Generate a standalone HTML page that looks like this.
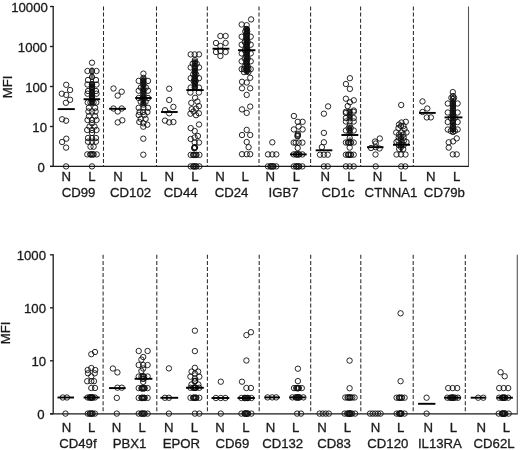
<!DOCTYPE html>
<html><head><meta charset="utf-8"><style>
html,body{margin:0;padding:0;background:#fff;}
svg{display:block;filter:blur(0.35px);}
circle{fill:none;stroke:#111;stroke-width:0.9;}
text{stroke:#1a1a1a;stroke-width:0.3px;}
</style></head><body>
<svg width="520" height="450" viewBox="0 0 520 450">
<rect width="520" height="450" fill="#fff"/>
<line x1="53.2" y1="5.9" x2="53.2" y2="166.4" stroke="#1a1a1a" stroke-width="1.3"/>
<line x1="50.0" y1="166.4" x2="469.0" y2="166.4" stroke="#1a1a1a" stroke-width="1.3"/>
<line x1="50.0" y1="6.5" x2="53.2" y2="6.5" stroke="#1a1a1a" stroke-width="1.3"/>
<text x="47.8" y="11.7" text-anchor="end" font-size="13.2" font-family="Liberation Sans, sans-serif" fill="#1a1a1a">10000</text>
<line x1="50.0" y1="46.5" x2="53.2" y2="46.5" stroke="#1a1a1a" stroke-width="1.3"/>
<text x="47.2" y="51.7" text-anchor="end" font-size="13.2" font-family="Liberation Sans, sans-serif" fill="#1a1a1a">1000</text>
<line x1="50.0" y1="86.5" x2="53.2" y2="86.5" stroke="#1a1a1a" stroke-width="1.3"/>
<text x="47.2" y="91.7" text-anchor="end" font-size="13.2" font-family="Liberation Sans, sans-serif" fill="#1a1a1a">100</text>
<line x1="50.0" y1="126.5" x2="53.2" y2="126.5" stroke="#1a1a1a" stroke-width="1.3"/>
<text x="47.0" y="131.7" text-anchor="end" font-size="13.2" font-family="Liberation Sans, sans-serif" fill="#1a1a1a">10</text>
<line x1="50.0" y1="166.4" x2="53.2" y2="166.4" stroke="#1a1a1a" stroke-width="1.3"/>
<text x="44.8" y="171.6" text-anchor="end" font-size="13.2" font-family="Liberation Sans, sans-serif" fill="#1a1a1a">0</text>
<line x1="103.5" y1="6.5" x2="103.5" y2="166.4" stroke="#2a2a2a" stroke-width="1.05" stroke-dasharray="4,2.1"/>
<line x1="156.5" y1="6.5" x2="156.5" y2="166.4" stroke="#2a2a2a" stroke-width="1.05" stroke-dasharray="4,2.1"/>
<line x1="207.3" y1="6.5" x2="207.3" y2="166.4" stroke="#2a2a2a" stroke-width="1.05" stroke-dasharray="4,2.1"/>
<line x1="259" y1="6.5" x2="259" y2="166.4" stroke="#2a2a2a" stroke-width="1.05" stroke-dasharray="4,2.1"/>
<line x1="310.6" y1="6.5" x2="310.6" y2="166.4" stroke="#2a2a2a" stroke-width="1.05" stroke-dasharray="4,2.1"/>
<line x1="360.6" y1="6.5" x2="360.6" y2="166.4" stroke="#2a2a2a" stroke-width="1.05" stroke-dasharray="4,2.1"/>
<line x1="413.4" y1="6.5" x2="413.4" y2="166.4" stroke="#2a2a2a" stroke-width="1.05" stroke-dasharray="4,2.1"/>
<line x1="468.5" y1="6.5" x2="468.5" y2="166.4" stroke="#555" stroke-width="1.1"/>
<text x="66.3" y="181.0" text-anchor="middle" font-size="13.2" font-family="Liberation Sans, sans-serif" fill="#1a1a1a">N</text>
<text x="91.9" y="181.0" text-anchor="middle" font-size="13.2" font-family="Liberation Sans, sans-serif" fill="#1a1a1a">L</text>
<text x="78.6" y="196.6" text-anchor="middle" font-size="13.2" font-family="Liberation Sans, sans-serif" fill="#1a1a1a">CD99</text>
<text x="117.9" y="181.0" text-anchor="middle" font-size="13.2" font-family="Liberation Sans, sans-serif" fill="#1a1a1a">N</text>
<text x="143.6" y="181.0" text-anchor="middle" font-size="13.2" font-family="Liberation Sans, sans-serif" fill="#1a1a1a">L</text>
<text x="130.6" y="196.6" text-anchor="middle" font-size="13.2" font-family="Liberation Sans, sans-serif" fill="#1a1a1a">CD102</text>
<text x="169.3" y="181.0" text-anchor="middle" font-size="13.2" font-family="Liberation Sans, sans-serif" fill="#1a1a1a">N</text>
<text x="194.9" y="181.0" text-anchor="middle" font-size="13.2" font-family="Liberation Sans, sans-serif" fill="#1a1a1a">L</text>
<text x="180.7" y="196.6" text-anchor="middle" font-size="13.2" font-family="Liberation Sans, sans-serif" fill="#1a1a1a">CD44</text>
<text x="220.0" y="181.0" text-anchor="middle" font-size="13.2" font-family="Liberation Sans, sans-serif" fill="#1a1a1a">N</text>
<text x="245.2" y="181.0" text-anchor="middle" font-size="13.2" font-family="Liberation Sans, sans-serif" fill="#1a1a1a">L</text>
<text x="231.5" y="196.6" text-anchor="middle" font-size="13.2" font-family="Liberation Sans, sans-serif" fill="#1a1a1a">CD24</text>
<text x="270.3" y="181.0" text-anchor="middle" font-size="13.2" font-family="Liberation Sans, sans-serif" fill="#1a1a1a">N</text>
<text x="296.5" y="181.0" text-anchor="middle" font-size="13.2" font-family="Liberation Sans, sans-serif" fill="#1a1a1a">L</text>
<text x="283.6" y="196.6" text-anchor="middle" font-size="13.2" font-family="Liberation Sans, sans-serif" fill="#1a1a1a">IGB7</text>
<text x="325.2" y="181.0" text-anchor="middle" font-size="13.2" font-family="Liberation Sans, sans-serif" fill="#1a1a1a">N</text>
<text x="350.9" y="181.0" text-anchor="middle" font-size="13.2" font-family="Liberation Sans, sans-serif" fill="#1a1a1a">L</text>
<text x="338.0" y="196.6" text-anchor="middle" font-size="13.2" font-family="Liberation Sans, sans-serif" fill="#1a1a1a">CD1c</text>
<text x="377.5" y="181.0" text-anchor="middle" font-size="13.2" font-family="Liberation Sans, sans-serif" fill="#1a1a1a">N</text>
<text x="403.2" y="181.0" text-anchor="middle" font-size="13.2" font-family="Liberation Sans, sans-serif" fill="#1a1a1a">L</text>
<text x="391.0" y="196.6" text-anchor="middle" font-size="13.2" font-family="Liberation Sans, sans-serif" fill="#1a1a1a">CTNNA1</text>
<text x="430.8" y="181.0" text-anchor="middle" font-size="13.2" font-family="Liberation Sans, sans-serif" fill="#1a1a1a">N</text>
<text x="456.7" y="181.0" text-anchor="middle" font-size="13.2" font-family="Liberation Sans, sans-serif" fill="#1a1a1a">L</text>
<text x="444.4" y="196.6" text-anchor="middle" font-size="13.2" font-family="Liberation Sans, sans-serif" fill="#1a1a1a">CD79b</text>
<text x="12.2" y="86.9" transform="rotate(-90 12.2 86.9)" text-anchor="middle" font-size="13.2" font-family="Liberation Sans, sans-serif" fill="#1a1a1a">MFI</text>
<circle cx="66.2" cy="84.8" r="2.7"/>
<circle cx="70.1" cy="90.0" r="2.7"/>
<circle cx="61.8" cy="93.7" r="2.7"/>
<circle cx="66.2" cy="94.9" r="2.7"/>
<circle cx="70.1" cy="99.8" r="2.7"/>
<circle cx="65.9" cy="102.8" r="2.7"/>
<circle cx="62.1" cy="119.3" r="2.7"/>
<circle cx="66.1" cy="120.7" r="2.7"/>
<circle cx="66.3" cy="138.7" r="2.7"/>
<circle cx="62.1" cy="142.0" r="2.7"/>
<circle cx="66.1" cy="147.6" r="2.7"/>
<circle cx="66.1" cy="166.4" r="2.7"/>
<circle cx="92.0" cy="62.7" r="2.7"/>
<circle cx="87.5" cy="71.0" r="2.7"/>
<circle cx="92.0" cy="71.0" r="2.7"/>
<circle cx="96.5" cy="71.0" r="2.7"/>
<circle cx="92.0" cy="77.0" r="2.7"/>
<circle cx="88.0" cy="80.0" r="2.7"/>
<circle cx="96.0" cy="80.0" r="2.7"/>
<circle cx="87.5" cy="84.5" r="2.7"/>
<circle cx="92.0" cy="84.5" r="2.7"/>
<circle cx="96.5" cy="84.5" r="2.7"/>
<circle cx="92.0" cy="88.0" r="2.7"/>
<circle cx="88.0" cy="91.0" r="2.7"/>
<circle cx="96.0" cy="91.0" r="2.7"/>
<circle cx="87.5" cy="93.7" r="2.7"/>
<circle cx="92.0" cy="93.7" r="2.7"/>
<circle cx="96.5" cy="93.7" r="2.7"/>
<circle cx="92.0" cy="97.0" r="2.7"/>
<circle cx="87.7" cy="102.5" r="2.7"/>
<circle cx="90.5" cy="102.5" r="2.7"/>
<circle cx="93.5" cy="102.5" r="2.7"/>
<circle cx="96.3" cy="102.5" r="2.7"/>
<circle cx="88.9" cy="107.8" r="2.7"/>
<circle cx="95.1" cy="107.8" r="2.7"/>
<circle cx="88.4" cy="111.5" r="2.7"/>
<circle cx="92.0" cy="111.5" r="2.7"/>
<circle cx="95.6" cy="111.5" r="2.7"/>
<circle cx="88.9" cy="116.3" r="2.7"/>
<circle cx="95.1" cy="116.3" r="2.7"/>
<circle cx="87.5" cy="120.0" r="2.7"/>
<circle cx="92.0" cy="120.0" r="2.7"/>
<circle cx="96.5" cy="120.0" r="2.7"/>
<circle cx="92.0" cy="123.3" r="2.7"/>
<circle cx="89.5" cy="126.6" r="2.7"/>
<circle cx="94.5" cy="126.6" r="2.7"/>
<circle cx="87.2" cy="130.0" r="2.7"/>
<circle cx="92.0" cy="130.0" r="2.7"/>
<circle cx="96.5" cy="130.0" r="2.7"/>
<circle cx="92.0" cy="133.0" r="2.7"/>
<circle cx="88.0" cy="138.0" r="2.7"/>
<circle cx="92.0" cy="138.0" r="2.7"/>
<circle cx="95.9" cy="138.0" r="2.7"/>
<circle cx="88.0" cy="141.7" r="2.7"/>
<circle cx="92.0" cy="141.7" r="2.7"/>
<circle cx="95.9" cy="141.7" r="2.7"/>
<circle cx="90.5" cy="146.7" r="2.7"/>
<circle cx="93.6" cy="146.7" r="2.7"/>
<circle cx="87.3" cy="154.4" r="2.7"/>
<circle cx="90.5" cy="154.4" r="2.7"/>
<circle cx="93.6" cy="154.4" r="2.7"/>
<circle cx="96.7" cy="154.4" r="2.7"/>
<circle cx="92.0" cy="166.4" r="2.7"/>
<circle cx="92.0" cy="84.0" r="2.7"/>
<circle cx="92.0" cy="87.0" r="2.7"/>
<circle cx="92.0" cy="90.0" r="2.7"/>
<circle cx="92.0" cy="93.0" r="2.7"/>
<circle cx="92.0" cy="96.0" r="2.7"/>
<circle cx="92.0" cy="99.0" r="2.7"/>
<circle cx="92.0" cy="102.0" r="2.7"/>
<circle cx="90.4" cy="154.4" r="2.7"/>
<circle cx="91.7" cy="154.4" r="2.7"/>
<circle cx="93.0" cy="154.4" r="2.7"/>
<rect x="90.20" y="67.20" width="3.6" height="12.60" rx="1.8" fill="#0d0d0d" fill-opacity="0.6"/>
<rect x="89.90" y="81.40" width="4.2" height="24.70" rx="2.1" fill="#0d0d0d" fill-opacity="0.85"/>
<line x1="57.7" y1="109.1" x2="74.8" y2="109.1" stroke="#000" stroke-width="1.9"/>
<line x1="83.6" y1="99.2" x2="100.1" y2="99.2" stroke="#000" stroke-width="1.9"/>
<circle cx="113.5" cy="88.5" r="2.7"/>
<circle cx="121.7" cy="91.7" r="2.7"/>
<circle cx="117.7" cy="95.6" r="2.7"/>
<circle cx="113.5" cy="108.5" r="2.7"/>
<circle cx="117.7" cy="111.5" r="2.7"/>
<circle cx="121.7" cy="108.5" r="2.7"/>
<circle cx="117.7" cy="122.4" r="2.7"/>
<circle cx="122.3" cy="120.3" r="2.7"/>
<circle cx="143.4" cy="73.6" r="2.7"/>
<circle cx="143.4" cy="77.9" r="2.7"/>
<circle cx="138.7" cy="80.9" r="2.7"/>
<circle cx="143.4" cy="80.9" r="2.7"/>
<circle cx="148.0" cy="80.9" r="2.7"/>
<circle cx="143.4" cy="84.6" r="2.7"/>
<circle cx="140.9" cy="87.5" r="2.7"/>
<circle cx="145.9" cy="87.5" r="2.7"/>
<circle cx="138.7" cy="90.7" r="2.7"/>
<circle cx="143.4" cy="90.7" r="2.7"/>
<circle cx="148.0" cy="90.7" r="2.7"/>
<circle cx="143.4" cy="94.4" r="2.7"/>
<circle cx="138.7" cy="98.0" r="2.7"/>
<circle cx="143.4" cy="98.0" r="2.7"/>
<circle cx="148.0" cy="98.0" r="2.7"/>
<circle cx="140.7" cy="101.7" r="2.7"/>
<circle cx="145.6" cy="101.7" r="2.7"/>
<circle cx="143.4" cy="104.5" r="2.7"/>
<circle cx="138.7" cy="107.8" r="2.7"/>
<circle cx="143.4" cy="107.8" r="2.7"/>
<circle cx="148.0" cy="107.8" r="2.7"/>
<circle cx="139.6" cy="112.0" r="2.7"/>
<circle cx="143.1" cy="112.0" r="2.7"/>
<circle cx="147.4" cy="112.0" r="2.7"/>
<circle cx="138.7" cy="115.0" r="2.7"/>
<circle cx="144.4" cy="115.0" r="2.7"/>
<circle cx="140.7" cy="118.9" r="2.7"/>
<circle cx="145.6" cy="118.9" r="2.7"/>
<circle cx="139.3" cy="122.0" r="2.7"/>
<circle cx="143.3" cy="123.3" r="2.7"/>
<circle cx="147.3" cy="124.7" r="2.7"/>
<circle cx="143.3" cy="126.7" r="2.7"/>
<circle cx="143.3" cy="138.7" r="2.7"/>
<circle cx="143.3" cy="154.7" r="2.7"/>
<circle cx="143.4" cy="79.0" r="2.7"/>
<circle cx="143.4" cy="82.0" r="2.7"/>
<circle cx="143.4" cy="85.0" r="2.7"/>
<circle cx="143.4" cy="88.0" r="2.7"/>
<circle cx="143.4" cy="91.0" r="2.7"/>
<circle cx="143.4" cy="94.0" r="2.7"/>
<circle cx="143.4" cy="97.0" r="2.7"/>
<circle cx="143.4" cy="100.0" r="2.7"/>
<circle cx="143.4" cy="103.0" r="2.7"/>
<rect x="141.30" y="76.90" width="4.2" height="29.20" rx="2.1" fill="#0d0d0d" fill-opacity="0.85"/>
<line x1="109.1" y1="108.8" x2="126" y2="108.8" stroke="#000" stroke-width="1.9"/>
<line x1="135.2" y1="98" x2="151.7" y2="98" stroke="#000" stroke-width="1.9"/>
<circle cx="169.2" cy="88.7" r="2.7"/>
<circle cx="169.2" cy="100.0" r="2.7"/>
<circle cx="173.4" cy="106.9" r="2.7"/>
<circle cx="165.0" cy="110.2" r="2.7"/>
<circle cx="169.2" cy="113.3" r="2.7"/>
<circle cx="165.0" cy="120.6" r="2.7"/>
<circle cx="169.2" cy="122.4" r="2.7"/>
<circle cx="173.4" cy="122.0" r="2.7"/>
<circle cx="190.7" cy="54.4" r="2.7"/>
<circle cx="194.7" cy="54.4" r="2.7"/>
<circle cx="199.0" cy="54.4" r="2.7"/>
<circle cx="194.7" cy="61.6" r="2.7"/>
<circle cx="192.7" cy="63.8" r="2.7"/>
<circle cx="196.7" cy="63.8" r="2.7"/>
<circle cx="190.7" cy="67.4" r="2.7"/>
<circle cx="194.7" cy="67.4" r="2.7"/>
<circle cx="199.0" cy="67.4" r="2.7"/>
<circle cx="194.7" cy="71.7" r="2.7"/>
<circle cx="193.2" cy="74.5" r="2.7"/>
<circle cx="196.2" cy="74.5" r="2.7"/>
<circle cx="190.7" cy="78.2" r="2.7"/>
<circle cx="194.7" cy="78.2" r="2.7"/>
<circle cx="199.0" cy="78.2" r="2.7"/>
<circle cx="193.7" cy="81.0" r="2.7"/>
<circle cx="195.7" cy="81.0" r="2.7"/>
<circle cx="194.7" cy="83.3" r="2.7"/>
<circle cx="190.7" cy="87.6" r="2.7"/>
<circle cx="194.7" cy="87.6" r="2.7"/>
<circle cx="199.0" cy="87.6" r="2.7"/>
<circle cx="190.4" cy="92.5" r="2.7"/>
<circle cx="198.9" cy="92.5" r="2.7"/>
<circle cx="195.1" cy="97.8" r="2.7"/>
<circle cx="191.3" cy="102.9" r="2.7"/>
<circle cx="197.4" cy="101.6" r="2.7"/>
<circle cx="198.9" cy="106.1" r="2.7"/>
<circle cx="191.7" cy="109.2" r="2.7"/>
<circle cx="196.0" cy="108.6" r="2.7"/>
<circle cx="190.4" cy="113.7" r="2.7"/>
<circle cx="196.0" cy="115.2" r="2.7"/>
<circle cx="198.9" cy="113.3" r="2.7"/>
<circle cx="193.5" cy="111.5" r="2.7"/>
<circle cx="199.0" cy="124.5" r="2.7"/>
<circle cx="190.7" cy="128.1" r="2.7"/>
<circle cx="194.7" cy="131.0" r="2.7"/>
<circle cx="190.7" cy="139.0" r="2.7"/>
<circle cx="194.7" cy="137.5" r="2.7"/>
<circle cx="197.9" cy="136.0" r="2.7"/>
<circle cx="194.7" cy="142.5" r="2.7"/>
<circle cx="199.0" cy="142.5" r="2.7"/>
<circle cx="194.7" cy="147.6" r="2.7"/>
<circle cx="194.2" cy="148.2" r="2.7"/>
<circle cx="190.7" cy="154.9" r="2.7"/>
<circle cx="193.6" cy="154.9" r="2.7"/>
<circle cx="196.5" cy="154.9" r="2.7"/>
<circle cx="199.4" cy="154.9" r="2.7"/>
<circle cx="190.7" cy="166.4" r="2.7"/>
<circle cx="193.6" cy="166.4" r="2.7"/>
<circle cx="196.5" cy="166.4" r="2.7"/>
<circle cx="199.4" cy="166.4" r="2.7"/>
<circle cx="194.9" cy="60.0" r="2.7"/>
<circle cx="194.9" cy="63.0" r="2.7"/>
<circle cx="194.9" cy="66.0" r="2.7"/>
<circle cx="194.9" cy="69.0" r="2.7"/>
<circle cx="194.9" cy="72.0" r="2.7"/>
<circle cx="194.9" cy="75.0" r="2.7"/>
<circle cx="194.9" cy="78.0" r="2.7"/>
<circle cx="194.9" cy="81.0" r="2.7"/>
<circle cx="194.9" cy="84.0" r="2.7"/>
<circle cx="194.9" cy="87.0" r="2.7"/>
<circle cx="194.4" cy="147.6" r="2.7"/>
<circle cx="195.0" cy="147.3" r="2.7"/>
<circle cx="194.7" cy="148.0" r="2.7"/>
<circle cx="193.2" cy="154.9" r="2.7"/>
<circle cx="194.5" cy="154.9" r="2.7"/>
<circle cx="195.8" cy="154.9" r="2.7"/>
<circle cx="193.2" cy="166.4" r="2.7"/>
<circle cx="194.5" cy="166.4" r="2.7"/>
<circle cx="195.8" cy="166.4" r="2.7"/>
<rect x="193.30" y="59.40" width="3.2" height="12.20" rx="1.6" fill="#0d0d0d" fill-opacity="0.8"/>
<rect x="192.80" y="67.90" width="4.2" height="22.70" rx="2.1" fill="#0d0d0d" fill-opacity="0.85"/>
<line x1="161" y1="112" x2="177.7" y2="112" stroke="#000" stroke-width="1.9"/>
<line x1="186.3" y1="90.1" x2="203.7" y2="90.1" stroke="#000" stroke-width="1.9"/>
<circle cx="220.4" cy="36.0" r="2.7"/>
<circle cx="225.6" cy="36.0" r="2.7"/>
<circle cx="216.0" cy="43.0" r="2.7"/>
<circle cx="225.6" cy="43.0" r="2.7"/>
<circle cx="220.4" cy="46.0" r="2.7"/>
<circle cx="216.0" cy="52.0" r="2.7"/>
<circle cx="220.4" cy="51.0" r="2.7"/>
<circle cx="225.6" cy="52.0" r="2.7"/>
<circle cx="220.4" cy="56.0" r="2.7"/>
<circle cx="251.1" cy="19.4" r="2.7"/>
<circle cx="241.7" cy="24.5" r="2.7"/>
<circle cx="246.7" cy="25.2" r="2.7"/>
<circle cx="246.2" cy="29.0" r="2.7"/>
<circle cx="245.2" cy="31.5" r="2.7"/>
<circle cx="247.2" cy="31.5" r="2.7"/>
<circle cx="246.2" cy="34.0" r="2.7"/>
<circle cx="241.7" cy="36.7" r="2.7"/>
<circle cx="246.2" cy="36.7" r="2.7"/>
<circle cx="250.7" cy="36.7" r="2.7"/>
<circle cx="246.2" cy="39.5" r="2.7"/>
<circle cx="244.7" cy="42.0" r="2.7"/>
<circle cx="247.7" cy="42.0" r="2.7"/>
<circle cx="241.7" cy="44.7" r="2.7"/>
<circle cx="246.2" cy="44.7" r="2.7"/>
<circle cx="250.7" cy="44.7" r="2.7"/>
<circle cx="246.2" cy="47.5" r="2.7"/>
<circle cx="244.7" cy="50.2" r="2.7"/>
<circle cx="247.7" cy="50.2" r="2.7"/>
<circle cx="241.7" cy="53.4" r="2.7"/>
<circle cx="246.2" cy="53.4" r="2.7"/>
<circle cx="250.7" cy="53.4" r="2.7"/>
<circle cx="246.2" cy="56.5" r="2.7"/>
<circle cx="244.7" cy="58.5" r="2.7"/>
<circle cx="247.7" cy="58.5" r="2.7"/>
<circle cx="241.7" cy="61.3" r="2.7"/>
<circle cx="246.2" cy="61.3" r="2.7"/>
<circle cx="250.7" cy="61.3" r="2.7"/>
<circle cx="246.2" cy="64.0" r="2.7"/>
<circle cx="244.7" cy="66.5" r="2.7"/>
<circle cx="247.7" cy="66.5" r="2.7"/>
<circle cx="241.7" cy="69.2" r="2.7"/>
<circle cx="244.0" cy="69.2" r="2.7"/>
<circle cx="246.2" cy="69.2" r="2.7"/>
<circle cx="248.4" cy="69.2" r="2.7"/>
<circle cx="250.7" cy="69.2" r="2.7"/>
<circle cx="244.0" cy="72.1" r="2.7"/>
<circle cx="248.4" cy="72.1" r="2.7"/>
<circle cx="250.2" cy="77.8" r="2.7"/>
<circle cx="242.0" cy="81.8" r="2.7"/>
<circle cx="246.7" cy="82.5" r="2.7"/>
<circle cx="242.0" cy="88.3" r="2.7"/>
<circle cx="250.2" cy="88.3" r="2.7"/>
<circle cx="246.7" cy="94.9" r="2.7"/>
<circle cx="242.0" cy="109.4" r="2.7"/>
<circle cx="250.2" cy="106.6" r="2.7"/>
<circle cx="246.7" cy="112.9" r="2.7"/>
<circle cx="246.7" cy="129.9" r="2.7"/>
<circle cx="242.0" cy="135.0" r="2.7"/>
<circle cx="250.2" cy="135.0" r="2.7"/>
<circle cx="246.7" cy="142.0" r="2.7"/>
<circle cx="248.6" cy="147.2" r="2.7"/>
<circle cx="242.0" cy="154.2" r="2.7"/>
<circle cx="246.7" cy="154.2" r="2.7"/>
<circle cx="250.2" cy="154.2" r="2.7"/>
<circle cx="246.9" cy="29.0" r="2.7"/>
<circle cx="246.9" cy="31.5" r="2.7"/>
<circle cx="246.9" cy="34.0" r="2.7"/>
<circle cx="246.9" cy="36.5" r="2.7"/>
<circle cx="246.9" cy="39.0" r="2.7"/>
<circle cx="246.9" cy="41.5" r="2.7"/>
<circle cx="246.9" cy="44.0" r="2.7"/>
<circle cx="246.9" cy="46.5" r="2.7"/>
<circle cx="246.9" cy="49.0" r="2.7"/>
<circle cx="246.9" cy="51.5" r="2.7"/>
<circle cx="246.9" cy="54.0" r="2.7"/>
<circle cx="246.9" cy="56.5" r="2.7"/>
<circle cx="246.9" cy="59.0" r="2.7"/>
<circle cx="246.9" cy="61.5" r="2.7"/>
<circle cx="246.9" cy="64.0" r="2.7"/>
<circle cx="246.9" cy="66.5" r="2.7"/>
<circle cx="246.9" cy="69.0" r="2.7"/>
<circle cx="246.9" cy="71.5" r="2.7"/>
<rect x="244.60" y="26.70" width="4.6" height="47.60" rx="2.3" fill="#0d0d0d" fill-opacity="0.92"/>
<line x1="212.5" y1="48.7" x2="229.4" y2="48.7" stroke="#000" stroke-width="1.9"/>
<line x1="238" y1="50.2" x2="255.4" y2="50.2" stroke="#000" stroke-width="1.9"/>
<circle cx="272.3" cy="142.3" r="2.7"/>
<circle cx="268.0" cy="154.4" r="2.7"/>
<circle cx="272.3" cy="154.4" r="2.7"/>
<circle cx="276.3" cy="154.4" r="2.7"/>
<circle cx="268.0" cy="166.4" r="2.7"/>
<circle cx="270.6" cy="166.4" r="2.7"/>
<circle cx="273.5" cy="166.4" r="2.7"/>
<circle cx="276.3" cy="166.4" r="2.7"/>
<circle cx="293.9" cy="116.0" r="2.7"/>
<circle cx="297.8" cy="121.8" r="2.7"/>
<circle cx="302.6" cy="121.8" r="2.7"/>
<circle cx="293.9" cy="129.4" r="2.7"/>
<circle cx="302.6" cy="129.4" r="2.7"/>
<circle cx="298.6" cy="126.5" r="2.7"/>
<circle cx="293.7" cy="142.6" r="2.7"/>
<circle cx="295.7" cy="142.6" r="2.7"/>
<circle cx="298.7" cy="142.6" r="2.7"/>
<circle cx="302.4" cy="142.6" r="2.7"/>
<circle cx="297.7" cy="148.0" r="2.7"/>
<circle cx="293.7" cy="154.4" r="2.7"/>
<circle cx="296.2" cy="154.4" r="2.7"/>
<circle cx="299.2" cy="154.4" r="2.7"/>
<circle cx="302.4" cy="154.4" r="2.7"/>
<circle cx="293.7" cy="166.4" r="2.7"/>
<circle cx="296.2" cy="166.4" r="2.7"/>
<circle cx="299.2" cy="166.4" r="2.7"/>
<circle cx="302.4" cy="166.4" r="2.7"/>
<circle cx="297.8" cy="133.8" r="2.7"/>
<circle cx="297.8" cy="134.8" r="2.7"/>
<circle cx="297.8" cy="135.8" r="2.7"/>
<circle cx="297.5" cy="136.3" r="2.7"/>
<circle cx="270.6" cy="166.4" r="2.7"/>
<circle cx="271.9" cy="166.4" r="2.7"/>
<circle cx="273.2" cy="166.4" r="2.7"/>
<circle cx="296.2" cy="154.4" r="2.7"/>
<circle cx="297.5" cy="154.4" r="2.7"/>
<circle cx="298.8" cy="154.4" r="2.7"/>
<circle cx="296.2" cy="166.4" r="2.7"/>
<circle cx="297.5" cy="166.4" r="2.7"/>
<circle cx="298.8" cy="166.4" r="2.7"/>
<line x1="290" y1="154.4" x2="306.7" y2="154.4" stroke="#000" stroke-width="1.9"/>
<circle cx="328.1" cy="106.4" r="2.7"/>
<circle cx="323.9" cy="113.7" r="2.7"/>
<circle cx="323.9" cy="132.9" r="2.7"/>
<circle cx="323.9" cy="142.3" r="2.7"/>
<circle cx="321.9" cy="147.1" r="2.7"/>
<circle cx="320.0" cy="154.7" r="2.7"/>
<circle cx="323.9" cy="154.7" r="2.7"/>
<circle cx="327.7" cy="154.7" r="2.7"/>
<circle cx="323.9" cy="166.4" r="2.7"/>
<circle cx="327.7" cy="166.4" r="2.7"/>
<circle cx="349.9" cy="78.2" r="2.7"/>
<circle cx="345.9" cy="84.0" r="2.7"/>
<circle cx="349.9" cy="88.9" r="2.7"/>
<circle cx="345.9" cy="98.7" r="2.7"/>
<circle cx="353.8" cy="100.3" r="2.7"/>
<circle cx="349.9" cy="102.3" r="2.7"/>
<circle cx="347.7" cy="106.0" r="2.7"/>
<circle cx="345.9" cy="113.0" r="2.7"/>
<circle cx="353.8" cy="110.5" r="2.7"/>
<circle cx="345.9" cy="111.8" r="2.7"/>
<circle cx="349.7" cy="111.8" r="2.7"/>
<circle cx="353.7" cy="111.8" r="2.7"/>
<circle cx="349.7" cy="115.3" r="2.7"/>
<circle cx="345.9" cy="118.0" r="2.7"/>
<circle cx="349.7" cy="118.0" r="2.7"/>
<circle cx="353.7" cy="118.0" r="2.7"/>
<circle cx="345.9" cy="121.5" r="2.7"/>
<circle cx="349.7" cy="121.5" r="2.7"/>
<circle cx="353.7" cy="121.5" r="2.7"/>
<circle cx="349.7" cy="125.9" r="2.7"/>
<circle cx="348.7" cy="128.0" r="2.7"/>
<circle cx="350.7" cy="128.0" r="2.7"/>
<circle cx="345.9" cy="130.5" r="2.7"/>
<circle cx="349.7" cy="130.5" r="2.7"/>
<circle cx="353.7" cy="130.5" r="2.7"/>
<circle cx="349.7" cy="133.0" r="2.7"/>
<circle cx="349.7" cy="138.0" r="2.7"/>
<circle cx="345.9" cy="142.5" r="2.7"/>
<circle cx="348.4" cy="142.5" r="2.7"/>
<circle cx="351.0" cy="142.5" r="2.7"/>
<circle cx="353.7" cy="142.5" r="2.7"/>
<circle cx="349.7" cy="147.6" r="2.7"/>
<circle cx="345.9" cy="154.7" r="2.7"/>
<circle cx="348.4" cy="154.7" r="2.7"/>
<circle cx="351.0" cy="154.7" r="2.7"/>
<circle cx="353.7" cy="154.7" r="2.7"/>
<circle cx="345.9" cy="166.4" r="2.7"/>
<circle cx="349.7" cy="166.4" r="2.7"/>
<circle cx="353.7" cy="166.4" r="2.7"/>
<circle cx="348.0" cy="142.5" r="2.7"/>
<circle cx="349.3" cy="142.5" r="2.7"/>
<circle cx="350.6" cy="142.5" r="2.7"/>
<circle cx="348.0" cy="154.7" r="2.7"/>
<circle cx="349.3" cy="154.7" r="2.7"/>
<circle cx="350.6" cy="154.7" r="2.7"/>
<rect x="348.00" y="109.00" width="4.0" height="11.00" rx="2.0" fill="#0d0d0d" fill-opacity="0.8"/>
<rect x="348.00" y="125.50" width="4.0" height="10.00" rx="2.0" fill="#0d0d0d" fill-opacity="0.8"/>
<rect x="348.20" y="137.20" width="3.6" height="6.10" rx="1.8" fill="#0d0d0d" fill-opacity="0.6"/>
<line x1="315.7" y1="150.3" x2="332.3" y2="150.3" stroke="#000" stroke-width="1.9"/>
<line x1="341.4" y1="135" x2="358.3" y2="135" stroke="#000" stroke-width="1.9"/>
<circle cx="379.8" cy="138.5" r="2.7"/>
<circle cx="375.0" cy="141.5" r="2.7"/>
<circle cx="375.8" cy="143.5" r="2.7"/>
<circle cx="371.0" cy="148.0" r="2.7"/>
<circle cx="375.8" cy="147.2" r="2.7"/>
<circle cx="379.5" cy="148.5" r="2.7"/>
<circle cx="375.5" cy="154.5" r="2.7"/>
<circle cx="375.7" cy="166.4" r="2.7"/>
<circle cx="401.2" cy="105.0" r="2.7"/>
<circle cx="405.8" cy="121.8" r="2.7"/>
<circle cx="401.5" cy="122.5" r="2.7"/>
<circle cx="399.0" cy="124.5" r="2.7"/>
<circle cx="403.5" cy="126.0" r="2.7"/>
<circle cx="401.0" cy="126.0" r="2.7"/>
<circle cx="398.5" cy="128.0" r="2.7"/>
<circle cx="404.5" cy="129.0" r="2.7"/>
<circle cx="396.2" cy="132.5" r="2.7"/>
<circle cx="401.5" cy="132.5" r="2.7"/>
<circle cx="406.5" cy="132.5" r="2.7"/>
<circle cx="401.0" cy="136.5" r="2.7"/>
<circle cx="401.0" cy="139.0" r="2.7"/>
<circle cx="396.5" cy="142.0" r="2.7"/>
<circle cx="401.5" cy="142.0" r="2.7"/>
<circle cx="406.5" cy="142.0" r="2.7"/>
<circle cx="401.0" cy="147.0" r="2.7"/>
<circle cx="399.2" cy="149.0" r="2.7"/>
<circle cx="403.2" cy="149.0" r="2.7"/>
<circle cx="396.5" cy="154.5" r="2.7"/>
<circle cx="401.0" cy="154.5" r="2.7"/>
<circle cx="405.5" cy="154.5" r="2.7"/>
<circle cx="401.2" cy="166.4" r="2.7"/>
<circle cx="405.3" cy="166.4" r="2.7"/>
<circle cx="399.0" cy="134.5" r="2.7"/>
<circle cx="403.4" cy="134.5" r="2.7"/>
<circle cx="398.7" cy="137.5" r="2.7"/>
<circle cx="403.7" cy="137.5" r="2.7"/>
<circle cx="398.4" cy="140.5" r="2.7"/>
<circle cx="404.0" cy="140.5" r="2.7"/>
<circle cx="398.7" cy="145.0" r="2.7"/>
<circle cx="401.2" cy="145.0" r="2.7"/>
<circle cx="403.7" cy="145.0" r="2.7"/>
<rect x="399.90" y="132.70" width="2.6" height="19.60" rx="1.3" fill="#0d0d0d" fill-opacity="0.75"/>
<line x1="367" y1="147.2" x2="383.5" y2="147.2" stroke="#000" stroke-width="1.9"/>
<line x1="393" y1="144.8" x2="410" y2="144.8" stroke="#000" stroke-width="1.9"/>
<circle cx="422.5" cy="101.4" r="2.7"/>
<circle cx="427.3" cy="108.5" r="2.7"/>
<circle cx="422.5" cy="112.0" r="2.7"/>
<circle cx="426.8" cy="117.4" r="2.7"/>
<circle cx="430.9" cy="117.4" r="2.7"/>
<circle cx="452.8" cy="92.1" r="2.7"/>
<circle cx="451.4" cy="97.8" r="2.7"/>
<circle cx="454.1" cy="97.8" r="2.7"/>
<circle cx="447.8" cy="103.5" r="2.7"/>
<circle cx="452.8" cy="103.5" r="2.7"/>
<circle cx="457.6" cy="103.5" r="2.7"/>
<circle cx="452.8" cy="106.0" r="2.7"/>
<circle cx="452.8" cy="108.5" r="2.7"/>
<circle cx="447.8" cy="112.5" r="2.7"/>
<circle cx="452.8" cy="112.5" r="2.7"/>
<circle cx="457.6" cy="112.5" r="2.7"/>
<circle cx="452.8" cy="115.0" r="2.7"/>
<circle cx="450.8" cy="118.0" r="2.7"/>
<circle cx="454.8" cy="118.0" r="2.7"/>
<circle cx="447.8" cy="122.0" r="2.7"/>
<circle cx="452.8" cy="122.0" r="2.7"/>
<circle cx="457.6" cy="122.0" r="2.7"/>
<circle cx="452.8" cy="126.3" r="2.7"/>
<circle cx="447.8" cy="129.5" r="2.7"/>
<circle cx="452.8" cy="129.5" r="2.7"/>
<circle cx="457.6" cy="129.5" r="2.7"/>
<circle cx="450.8" cy="131.0" r="2.7"/>
<circle cx="454.8" cy="131.0" r="2.7"/>
<circle cx="456.7" cy="138.4" r="2.7"/>
<circle cx="448.7" cy="142.3" r="2.7"/>
<circle cx="453.1" cy="141.4" r="2.7"/>
<circle cx="448.7" cy="147.6" r="2.7"/>
<circle cx="452.8" cy="154.4" r="2.7"/>
<circle cx="456.7" cy="154.4" r="2.7"/>
<circle cx="453.0" cy="96.0" r="2.7"/>
<circle cx="453.0" cy="99.0" r="2.7"/>
<circle cx="453.0" cy="102.0" r="2.7"/>
<circle cx="453.0" cy="105.0" r="2.7"/>
<circle cx="453.0" cy="108.0" r="2.7"/>
<circle cx="453.0" cy="111.0" r="2.7"/>
<circle cx="453.0" cy="114.0" r="2.7"/>
<circle cx="453.0" cy="117.0" r="2.7"/>
<circle cx="453.0" cy="120.0" r="2.7"/>
<circle cx="453.0" cy="123.0" r="2.7"/>
<circle cx="453.0" cy="126.0" r="2.7"/>
<circle cx="453.0" cy="129.0" r="2.7"/>
<circle cx="453.0" cy="132.0" r="2.7"/>
<rect x="451.20" y="99.20" width="3.6" height="33.60" rx="1.8" fill="#0d0d0d" fill-opacity="0.85"/>
<line x1="419" y1="112.9" x2="435.7" y2="112.9" stroke="#000" stroke-width="1.9"/>
<line x1="444.6" y1="117.4" x2="462.4" y2="117.4" stroke="#000" stroke-width="1.9"/>
<line x1="53.2" y1="254.20000000000002" x2="53.2" y2="413.8" stroke="#1a1a1a" stroke-width="1.3"/>
<line x1="50.0" y1="413.8" x2="517.8" y2="413.8" stroke="#1a1a1a" stroke-width="1.3"/>
<line x1="50.0" y1="254.8" x2="53.2" y2="254.8" stroke="#1a1a1a" stroke-width="1.3"/>
<text x="46.0" y="260.0" text-anchor="end" font-size="13.2" font-family="Liberation Sans, sans-serif" fill="#1a1a1a">1000</text>
<line x1="50.0" y1="307.8" x2="53.2" y2="307.8" stroke="#1a1a1a" stroke-width="1.3"/>
<text x="46.0" y="313.0" text-anchor="end" font-size="13.2" font-family="Liberation Sans, sans-serif" fill="#1a1a1a">100</text>
<line x1="50.0" y1="360.8" x2="53.2" y2="360.8" stroke="#1a1a1a" stroke-width="1.3"/>
<text x="46.2" y="366.0" text-anchor="end" font-size="13.2" font-family="Liberation Sans, sans-serif" fill="#1a1a1a">10</text>
<line x1="50.0" y1="413.8" x2="53.2" y2="413.8" stroke="#1a1a1a" stroke-width="1.3"/>
<text x="44.6" y="419.0" text-anchor="end" font-size="13.2" font-family="Liberation Sans, sans-serif" fill="#1a1a1a">0</text>
<line x1="103.1" y1="254.8" x2="103.1" y2="413.8" stroke="#2a2a2a" stroke-width="1.05" stroke-dasharray="4,2.1"/>
<line x1="156.8" y1="254.8" x2="156.8" y2="413.8" stroke="#2a2a2a" stroke-width="1.05" stroke-dasharray="4,2.1"/>
<line x1="207.4" y1="254.8" x2="207.4" y2="413.8" stroke="#2a2a2a" stroke-width="1.05" stroke-dasharray="4,2.1"/>
<line x1="259.2" y1="254.8" x2="259.2" y2="413.8" stroke="#2a2a2a" stroke-width="1.05" stroke-dasharray="4,2.1"/>
<line x1="310.7" y1="254.8" x2="310.7" y2="413.8" stroke="#2a2a2a" stroke-width="1.05" stroke-dasharray="4,2.1"/>
<line x1="360.8" y1="254.8" x2="360.8" y2="413.8" stroke="#2a2a2a" stroke-width="1.05" stroke-dasharray="4,2.1"/>
<line x1="413.2" y1="254.8" x2="413.2" y2="413.8" stroke="#2a2a2a" stroke-width="1.05" stroke-dasharray="4,2.1"/>
<line x1="465.3" y1="254.8" x2="465.3" y2="413.8" stroke="#2a2a2a" stroke-width="1.05" stroke-dasharray="4,2.1"/>
<line x1="517.3" y1="254.8" x2="517.3" y2="413.8" stroke="#555" stroke-width="1.1"/>
<text x="66.4" y="431.8" text-anchor="middle" font-size="13.2" font-family="Liberation Sans, sans-serif" fill="#1a1a1a">N</text>
<text x="91.7" y="431.8" text-anchor="middle" font-size="13.2" font-family="Liberation Sans, sans-serif" fill="#1a1a1a">L</text>
<text x="77.9" y="447.6" text-anchor="middle" font-size="13.2" font-family="Liberation Sans, sans-serif" fill="#1a1a1a">CD49f</text>
<text x="116.4" y="431.8" text-anchor="middle" font-size="13.2" font-family="Liberation Sans, sans-serif" fill="#1a1a1a">N</text>
<text x="142.2" y="431.8" text-anchor="middle" font-size="13.2" font-family="Liberation Sans, sans-serif" fill="#1a1a1a">L</text>
<text x="129.6" y="447.6" text-anchor="middle" font-size="13.2" font-family="Liberation Sans, sans-serif" fill="#1a1a1a">PBX1</text>
<text x="168.7" y="431.8" text-anchor="middle" font-size="13.2" font-family="Liberation Sans, sans-serif" fill="#1a1a1a">N</text>
<text x="194.3" y="431.8" text-anchor="middle" font-size="13.2" font-family="Liberation Sans, sans-serif" fill="#1a1a1a">L</text>
<text x="181.4" y="447.6" text-anchor="middle" font-size="13.2" font-family="Liberation Sans, sans-serif" fill="#1a1a1a">EPOR</text>
<text x="220.0" y="431.8" text-anchor="middle" font-size="13.2" font-family="Liberation Sans, sans-serif" fill="#1a1a1a">N</text>
<text x="245.9" y="431.8" text-anchor="middle" font-size="13.2" font-family="Liberation Sans, sans-serif" fill="#1a1a1a">L</text>
<text x="232.4" y="447.6" text-anchor="middle" font-size="13.2" font-family="Liberation Sans, sans-serif" fill="#1a1a1a">CD69</text>
<text x="270.4" y="431.8" text-anchor="middle" font-size="13.2" font-family="Liberation Sans, sans-serif" fill="#1a1a1a">N</text>
<text x="295.7" y="431.8" text-anchor="middle" font-size="13.2" font-family="Liberation Sans, sans-serif" fill="#1a1a1a">L</text>
<text x="282.7" y="447.6" text-anchor="middle" font-size="13.2" font-family="Liberation Sans, sans-serif" fill="#1a1a1a">CD132</text>
<text x="322.0" y="431.8" text-anchor="middle" font-size="13.2" font-family="Liberation Sans, sans-serif" fill="#1a1a1a">N</text>
<text x="347.3" y="431.8" text-anchor="middle" font-size="13.2" font-family="Liberation Sans, sans-serif" fill="#1a1a1a">L</text>
<text x="334.0" y="447.6" text-anchor="middle" font-size="13.2" font-family="Liberation Sans, sans-serif" fill="#1a1a1a">CD83</text>
<text x="375.4" y="431.8" text-anchor="middle" font-size="13.2" font-family="Liberation Sans, sans-serif" fill="#1a1a1a">N</text>
<text x="400.7" y="431.8" text-anchor="middle" font-size="13.2" font-family="Liberation Sans, sans-serif" fill="#1a1a1a">L</text>
<text x="387.8" y="447.6" text-anchor="middle" font-size="13.2" font-family="Liberation Sans, sans-serif" fill="#1a1a1a">CD120</text>
<text x="428.3" y="431.8" text-anchor="middle" font-size="13.2" font-family="Liberation Sans, sans-serif" fill="#1a1a1a">N</text>
<text x="453.5" y="431.8" text-anchor="middle" font-size="13.2" font-family="Liberation Sans, sans-serif" fill="#1a1a1a">L</text>
<text x="439.9" y="447.6" text-anchor="middle" font-size="13.2" font-family="Liberation Sans, sans-serif" fill="#1a1a1a">IL13RA</text>
<text x="481.2" y="431.8" text-anchor="middle" font-size="13.2" font-family="Liberation Sans, sans-serif" fill="#1a1a1a">N</text>
<text x="506.4" y="431.8" text-anchor="middle" font-size="13.2" font-family="Liberation Sans, sans-serif" fill="#1a1a1a">L</text>
<text x="494.1" y="447.6" text-anchor="middle" font-size="13.2" font-family="Liberation Sans, sans-serif" fill="#1a1a1a">CD62L</text>
<text x="10.1" y="333.0" transform="rotate(-90 10.1 333.0)" text-anchor="middle" font-size="13.2" font-family="Liberation Sans, sans-serif" fill="#1a1a1a">MFI</text>
<circle cx="62.8" cy="397.5" r="2.7"/>
<circle cx="66.9" cy="397.5" r="2.7"/>
<circle cx="65.5" cy="413.6" r="2.7"/>
<circle cx="91.3" cy="354.2" r="2.7"/>
<circle cx="95.0" cy="352.0" r="2.7"/>
<circle cx="91.3" cy="368.0" r="2.7"/>
<circle cx="87.7" cy="370.0" r="2.7"/>
<circle cx="95.2" cy="370.0" r="2.7"/>
<circle cx="88.0" cy="373.3" r="2.7"/>
<circle cx="94.7" cy="373.3" r="2.7"/>
<circle cx="91.3" cy="376.3" r="2.7"/>
<circle cx="87.2" cy="381.2" r="2.7"/>
<circle cx="91.3" cy="381.2" r="2.7"/>
<circle cx="94.0" cy="381.2" r="2.7"/>
<circle cx="91.3" cy="388.0" r="2.7"/>
<circle cx="95.0" cy="388.0" r="2.7"/>
<circle cx="87.7" cy="397.5" r="2.7"/>
<circle cx="89.8" cy="397.5" r="2.7"/>
<circle cx="91.3" cy="397.5" r="2.7"/>
<circle cx="92.8" cy="397.5" r="2.7"/>
<circle cx="94.9" cy="397.5" r="2.7"/>
<circle cx="87.8" cy="413.6" r="2.7"/>
<circle cx="90.1" cy="413.6" r="2.7"/>
<circle cx="92.5" cy="413.6" r="2.7"/>
<circle cx="94.9" cy="413.6" r="2.7"/>
<circle cx="90.6" cy="397.5" r="2.7"/>
<circle cx="92.0" cy="397.5" r="2.7"/>
<circle cx="89.8" cy="397.5" r="2.7"/>
<circle cx="91.1" cy="397.5" r="2.7"/>
<circle cx="92.4" cy="397.5" r="2.7"/>
<circle cx="89.8" cy="413.6" r="2.7"/>
<circle cx="91.1" cy="413.6" r="2.7"/>
<circle cx="92.4" cy="413.6" r="2.7"/>
<line x1="57.5" y1="397.5" x2="74" y2="397.5" stroke="#000" stroke-width="1.9"/>
<line x1="83.6" y1="397.5" x2="99.7" y2="397.5" stroke="#000" stroke-width="1.9"/>
<circle cx="112.9" cy="368.5" r="2.7"/>
<circle cx="117.4" cy="372.4" r="2.7"/>
<circle cx="117.4" cy="387.7" r="2.7"/>
<circle cx="121.8" cy="387.7" r="2.7"/>
<circle cx="116.8" cy="397.9" r="2.7"/>
<circle cx="116.8" cy="413.6" r="2.7"/>
<circle cx="138.7" cy="351.0" r="2.7"/>
<circle cx="147.6" cy="351.0" r="2.7"/>
<circle cx="143.2" cy="357.0" r="2.7"/>
<circle cx="141.4" cy="359.6" r="2.7"/>
<circle cx="138.7" cy="365.0" r="2.7"/>
<circle cx="143.2" cy="365.0" r="2.7"/>
<circle cx="147.6" cy="365.0" r="2.7"/>
<circle cx="143.2" cy="368.5" r="2.7"/>
<circle cx="141.4" cy="371.0" r="2.7"/>
<circle cx="138.7" cy="376.5" r="2.7"/>
<circle cx="143.2" cy="376.5" r="2.7"/>
<circle cx="147.6" cy="376.5" r="2.7"/>
<circle cx="143.2" cy="381.9" r="2.7"/>
<circle cx="138.7" cy="388.1" r="2.7"/>
<circle cx="141.7" cy="388.1" r="2.7"/>
<circle cx="144.7" cy="388.1" r="2.7"/>
<circle cx="147.6" cy="388.1" r="2.7"/>
<circle cx="138.7" cy="397.9" r="2.7"/>
<circle cx="141.7" cy="397.9" r="2.7"/>
<circle cx="144.7" cy="397.9" r="2.7"/>
<circle cx="147.6" cy="397.9" r="2.7"/>
<circle cx="138.7" cy="413.6" r="2.7"/>
<circle cx="141.7" cy="413.6" r="2.7"/>
<circle cx="144.7" cy="413.6" r="2.7"/>
<circle cx="147.6" cy="413.6" r="2.7"/>
<circle cx="142.5" cy="378.8" r="2.7"/>
<circle cx="143.9" cy="378.8" r="2.7"/>
<circle cx="142.5" cy="388.1" r="2.7"/>
<circle cx="143.9" cy="388.1" r="2.7"/>
<circle cx="142.5" cy="397.9" r="2.7"/>
<circle cx="143.9" cy="397.9" r="2.7"/>
<circle cx="141.5" cy="376.5" r="2.7"/>
<circle cx="142.8" cy="376.5" r="2.7"/>
<circle cx="144.1" cy="376.5" r="2.7"/>
<circle cx="141.5" cy="388.4" r="2.7"/>
<circle cx="142.8" cy="388.4" r="2.7"/>
<circle cx="144.1" cy="388.4" r="2.7"/>
<circle cx="141.5" cy="397.9" r="2.7"/>
<circle cx="142.8" cy="397.9" r="2.7"/>
<circle cx="144.1" cy="397.9" r="2.7"/>
<circle cx="141.5" cy="413.6" r="2.7"/>
<circle cx="142.8" cy="413.6" r="2.7"/>
<circle cx="144.1" cy="413.6" r="2.7"/>
<line x1="109" y1="388.1" x2="125.7" y2="388.1" stroke="#000" stroke-width="1.9"/>
<line x1="134.6" y1="378.8" x2="152.4" y2="378.8" stroke="#000" stroke-width="1.9"/>
<circle cx="168.9" cy="368.4" r="2.7"/>
<circle cx="164.9" cy="397.8" r="2.7"/>
<circle cx="168.9" cy="397.8" r="2.7"/>
<circle cx="168.9" cy="413.6" r="2.7"/>
<circle cx="194.9" cy="330.7" r="2.7"/>
<circle cx="194.9" cy="351.1" r="2.7"/>
<circle cx="194.9" cy="367.8" r="2.7"/>
<circle cx="191.6" cy="371.6" r="2.7"/>
<circle cx="198.2" cy="371.6" r="2.7"/>
<circle cx="194.9" cy="373.5" r="2.7"/>
<circle cx="190.4" cy="376.7" r="2.7"/>
<circle cx="199.3" cy="376.7" r="2.7"/>
<circle cx="194.9" cy="378.5" r="2.7"/>
<circle cx="194.9" cy="381.1" r="2.7"/>
<circle cx="194.6" cy="381.4" r="2.7"/>
<circle cx="195.2" cy="380.8" r="2.7"/>
<circle cx="191.5" cy="384.5" r="2.7"/>
<circle cx="198.3" cy="384.5" r="2.7"/>
<circle cx="190.5" cy="387.8" r="2.7"/>
<circle cx="194.9" cy="387.8" r="2.7"/>
<circle cx="199.3" cy="387.8" r="2.7"/>
<circle cx="190.5" cy="397.8" r="2.7"/>
<circle cx="193.4" cy="397.8" r="2.7"/>
<circle cx="196.4" cy="397.8" r="2.7"/>
<circle cx="199.3" cy="397.8" r="2.7"/>
<circle cx="194.9" cy="413.6" r="2.7"/>
<circle cx="199.3" cy="413.6" r="2.7"/>
<circle cx="194.2" cy="387.8" r="2.7"/>
<circle cx="195.6" cy="387.8" r="2.7"/>
<circle cx="194.2" cy="397.8" r="2.7"/>
<circle cx="195.6" cy="397.8" r="2.7"/>
<circle cx="193.2" cy="387.8" r="2.7"/>
<circle cx="194.5" cy="387.8" r="2.7"/>
<circle cx="195.8" cy="387.8" r="2.7"/>
<circle cx="193.2" cy="397.8" r="2.7"/>
<circle cx="194.5" cy="397.8" r="2.7"/>
<circle cx="195.8" cy="397.8" r="2.7"/>
<line x1="160.4" y1="397.8" x2="178.2" y2="397.8" stroke="#000" stroke-width="1.9"/>
<line x1="186" y1="387.8" x2="203.8" y2="387.8" stroke="#000" stroke-width="1.9"/>
<circle cx="220.8" cy="381.7" r="2.7"/>
<circle cx="215.9" cy="398.0" r="2.7"/>
<circle cx="220.8" cy="398.0" r="2.7"/>
<circle cx="225.3" cy="398.0" r="2.7"/>
<circle cx="220.8" cy="413.6" r="2.7"/>
<circle cx="246.4" cy="335.1" r="2.7"/>
<circle cx="250.9" cy="332.2" r="2.7"/>
<circle cx="246.4" cy="360.5" r="2.7"/>
<circle cx="242.0" cy="381.7" r="2.7"/>
<circle cx="246.4" cy="388.0" r="2.7"/>
<circle cx="250.9" cy="388.0" r="2.7"/>
<circle cx="241.4" cy="398.0" r="2.7"/>
<circle cx="244.7" cy="398.0" r="2.7"/>
<circle cx="248.1" cy="398.0" r="2.7"/>
<circle cx="251.4" cy="398.0" r="2.7"/>
<circle cx="241.4" cy="413.6" r="2.7"/>
<circle cx="244.7" cy="413.6" r="2.7"/>
<circle cx="248.1" cy="413.6" r="2.7"/>
<circle cx="251.4" cy="413.6" r="2.7"/>
<circle cx="245.7" cy="398.0" r="2.7"/>
<circle cx="247.1" cy="398.0" r="2.7"/>
<circle cx="245.7" cy="413.6" r="2.7"/>
<circle cx="247.1" cy="413.6" r="2.7"/>
<circle cx="244.7" cy="398.0" r="2.7"/>
<circle cx="246.0" cy="398.0" r="2.7"/>
<circle cx="247.3" cy="398.0" r="2.7"/>
<circle cx="244.7" cy="413.6" r="2.7"/>
<circle cx="246.0" cy="413.6" r="2.7"/>
<circle cx="247.3" cy="413.6" r="2.7"/>
<line x1="211.5" y1="398" x2="229.3" y2="398" stroke="#000" stroke-width="1.9"/>
<line x1="237.5" y1="398" x2="254.9" y2="398" stroke="#000" stroke-width="1.9"/>
<circle cx="267.6" cy="397.4" r="2.7"/>
<circle cx="272.2" cy="397.4" r="2.7"/>
<circle cx="276.1" cy="397.4" r="2.7"/>
<circle cx="297.9" cy="368.7" r="2.7"/>
<circle cx="297.9" cy="381.1" r="2.7"/>
<circle cx="294.0" cy="388.1" r="2.7"/>
<circle cx="297.9" cy="388.1" r="2.7"/>
<circle cx="301.8" cy="388.1" r="2.7"/>
<circle cx="292.4" cy="397.4" r="2.7"/>
<circle cx="295.7" cy="397.4" r="2.7"/>
<circle cx="299.6" cy="397.4" r="2.7"/>
<circle cx="303.4" cy="397.4" r="2.7"/>
<circle cx="297.1" cy="413.6" r="2.7"/>
<circle cx="301.0" cy="413.6" r="2.7"/>
<circle cx="297.2" cy="397.4" r="2.7"/>
<circle cx="298.6" cy="397.4" r="2.7"/>
<circle cx="297.2" cy="388.1" r="2.7"/>
<circle cx="298.6" cy="388.1" r="2.7"/>
<circle cx="296.2" cy="388.1" r="2.7"/>
<circle cx="297.5" cy="388.1" r="2.7"/>
<circle cx="298.8" cy="388.1" r="2.7"/>
<circle cx="296.2" cy="397.4" r="2.7"/>
<circle cx="297.5" cy="397.4" r="2.7"/>
<circle cx="298.8" cy="397.4" r="2.7"/>
<line x1="264.4" y1="397.4" x2="280" y2="397.4" stroke="#000" stroke-width="1.9"/>
<line x1="289.3" y1="397.4" x2="305.7" y2="397.4" stroke="#000" stroke-width="1.9"/>
<circle cx="319.6" cy="413.6" r="2.7"/>
<circle cx="322.7" cy="413.6" r="2.7"/>
<circle cx="325.8" cy="413.6" r="2.7"/>
<circle cx="328.9" cy="413.6" r="2.7"/>
<circle cx="349.6" cy="360.6" r="2.7"/>
<circle cx="349.6" cy="388.2" r="2.7"/>
<circle cx="345.3" cy="397.5" r="2.7"/>
<circle cx="347.6" cy="397.5" r="2.7"/>
<circle cx="350.0" cy="397.5" r="2.7"/>
<circle cx="352.3" cy="397.5" r="2.7"/>
<circle cx="354.6" cy="397.5" r="2.7"/>
<circle cx="344.6" cy="413.6" r="2.7"/>
<circle cx="347.1" cy="413.6" r="2.7"/>
<circle cx="349.6" cy="413.6" r="2.7"/>
<circle cx="352.1" cy="413.6" r="2.7"/>
<circle cx="355.1" cy="413.6" r="2.7"/>
<circle cx="348.9" cy="413.6" r="2.7"/>
<circle cx="350.3" cy="413.6" r="2.7"/>
<circle cx="348.1" cy="397.5" r="2.7"/>
<circle cx="349.4" cy="397.5" r="2.7"/>
<circle cx="350.7" cy="397.5" r="2.7"/>
<circle cx="348.1" cy="413.6" r="2.7"/>
<circle cx="349.4" cy="413.6" r="2.7"/>
<circle cx="350.7" cy="413.6" r="2.7"/>
<circle cx="370.0" cy="413.6" r="2.7"/>
<circle cx="372.7" cy="413.6" r="2.7"/>
<circle cx="375.3" cy="413.6" r="2.7"/>
<circle cx="378.0" cy="413.6" r="2.7"/>
<circle cx="380.6" cy="413.6" r="2.7"/>
<circle cx="400.6" cy="313.3" r="2.7"/>
<circle cx="400.6" cy="381.2" r="2.7"/>
<circle cx="396.6" cy="397.7" r="2.7"/>
<circle cx="399.3" cy="397.7" r="2.7"/>
<circle cx="402.0" cy="397.7" r="2.7"/>
<circle cx="404.6" cy="397.7" r="2.7"/>
<circle cx="396.6" cy="413.6" r="2.7"/>
<circle cx="400.6" cy="413.6" r="2.7"/>
<circle cx="404.6" cy="413.6" r="2.7"/>
<circle cx="399.9" cy="413.6" r="2.7"/>
<circle cx="401.3" cy="413.6" r="2.7"/>
<circle cx="398.9" cy="397.7" r="2.7"/>
<circle cx="400.2" cy="397.7" r="2.7"/>
<circle cx="401.5" cy="397.7" r="2.7"/>
<circle cx="398.9" cy="413.6" r="2.7"/>
<circle cx="400.2" cy="413.6" r="2.7"/>
<circle cx="401.5" cy="413.6" r="2.7"/>
<circle cx="426.6" cy="397.7" r="2.7"/>
<circle cx="426.6" cy="413.6" r="2.7"/>
<circle cx="448.2" cy="388.1" r="2.7"/>
<circle cx="452.7" cy="388.1" r="2.7"/>
<circle cx="457.2" cy="388.1" r="2.7"/>
<circle cx="447.4" cy="397.7" r="2.7"/>
<circle cx="450.1" cy="397.7" r="2.7"/>
<circle cx="452.7" cy="397.7" r="2.7"/>
<circle cx="455.3" cy="397.7" r="2.7"/>
<circle cx="458.0" cy="397.7" r="2.7"/>
<circle cx="452.0" cy="397.7" r="2.7"/>
<circle cx="453.4" cy="397.7" r="2.7"/>
<circle cx="451.0" cy="397.7" r="2.7"/>
<circle cx="452.3" cy="397.7" r="2.7"/>
<circle cx="453.6" cy="397.7" r="2.7"/>
<line x1="418.1" y1="403.8" x2="435.4" y2="403.8" stroke="#000" stroke-width="1.9"/>
<line x1="444.2" y1="397.7" x2="460.9" y2="397.7" stroke="#000" stroke-width="1.9"/>
<circle cx="478.2" cy="397.7" r="2.7"/>
<circle cx="483.3" cy="397.7" r="2.7"/>
<circle cx="500.6" cy="372.2" r="2.7"/>
<circle cx="504.7" cy="376.3" r="2.7"/>
<circle cx="499.2" cy="388.1" r="2.7"/>
<circle cx="503.7" cy="388.1" r="2.7"/>
<circle cx="508.2" cy="388.1" r="2.7"/>
<circle cx="499.2" cy="397.7" r="2.7"/>
<circle cx="502.2" cy="397.7" r="2.7"/>
<circle cx="505.2" cy="397.7" r="2.7"/>
<circle cx="508.2" cy="397.7" r="2.7"/>
<circle cx="498.7" cy="413.6" r="2.7"/>
<circle cx="502.0" cy="413.6" r="2.7"/>
<circle cx="505.4" cy="413.6" r="2.7"/>
<circle cx="508.7" cy="413.6" r="2.7"/>
<circle cx="503.0" cy="397.7" r="2.7"/>
<circle cx="504.4" cy="397.7" r="2.7"/>
<circle cx="503.0" cy="413.6" r="2.7"/>
<circle cx="504.4" cy="413.6" r="2.7"/>
<circle cx="502.0" cy="397.7" r="2.7"/>
<circle cx="503.3" cy="397.7" r="2.7"/>
<circle cx="504.6" cy="397.7" r="2.7"/>
<circle cx="502.0" cy="413.6" r="2.7"/>
<circle cx="503.3" cy="413.6" r="2.7"/>
<circle cx="504.6" cy="413.6" r="2.7"/>
<line x1="470.7" y1="397.7" x2="485.7" y2="397.7" stroke="#000" stroke-width="1.9"/>
<line x1="496.6" y1="397.7" x2="512.9" y2="397.7" stroke="#000" stroke-width="1.9"/>
</svg>
</body></html>
